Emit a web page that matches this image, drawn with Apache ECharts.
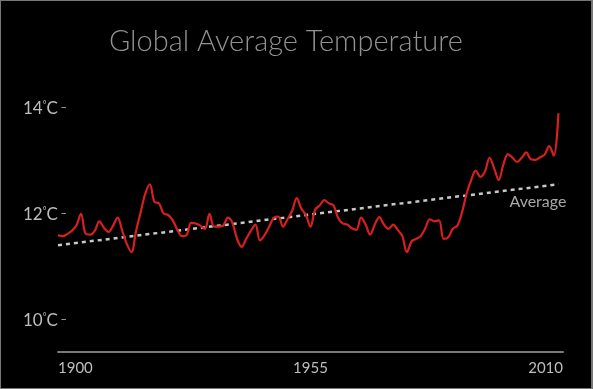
<!DOCTYPE html>
<html>
<head>
<meta charset="utf-8">
<script src="https://cdn.jsdelivr.net/npm/echarts@6/dist/echarts.min.js"></script>
<style>
html,body{margin:0;padding:0;background:#000;}
#wrap{position:relative;width:593px;height:389px;}
#chart{width:593px;height:389px;}
#frame{position:absolute;left:0;top:0;width:593px;height:389px;box-sizing:border-box;border:1px solid #777;border-right-width:2px;pointer-events:none;}
</style>
</head>
<body>
<div id="wrap"><div id="chart"></div><div id="frame"></div></div>
<script>
// Data
const years = [];
for (let y = 1900; y <= 2009; y++) years.push(y);
const temps = [
  11.62, 11.60, 11.64, 11.70, 11.80, 12.02, 11.65, 11.63, 11.70, 11.88,
  11.76, 11.68, 11.80, 11.95, 11.70, 11.45, 11.30, 11.70, 12.05, 12.40,
  12.58, 12.25, 12.22, 12.03, 12.00, 11.90, 11.72, 11.60, 11.62, 11.85,
  11.84, 11.80, 11.74, 12.02, 11.78, 11.78, 11.80, 11.95, 11.85, 11.55,
  11.40, 11.55, 11.70, 11.82, 11.52, 11.62, 11.78, 11.95, 11.97, 11.78,
  11.92, 12.08, 12.32, 12.12, 12.00, 11.78, 12.10, 12.18, 12.28, 12.22,
  12.18, 11.95, 11.84, 11.82, 11.75, 11.72, 11.95, 11.82, 11.63, 11.82,
  11.96, 11.82, 11.74, 11.82, 11.72, 11.60, 11.30, 11.50, 11.55, 11.60,
  11.75, 11.92, 11.88, 11.90, 11.55, 11.58, 11.74, 11.80, 12.05, 12.40,
  12.66, 12.84, 12.72, 12.82, 13.08, 12.88, 12.66, 12.95, 13.15, 13.08,
  13.00, 13.08, 13.18, 13.05, 13.04, 13.09, 13.14, 13.30, 13.12, 13.92
];
const avgYears = [1900, 2009];
const avgValues = [11.43, 12.58];
const xTickLabels = [1900, 1955, 2010];
const yTickLabels = [10, 12, 14];
const titleText = 'Global Average Temperature';
const avgLabel = 'Average';

const chart = echarts.init(document.getElementById('chart'));
const font = 'Lato, "Open Sans", sans-serif';
chart.setOption({
  backgroundColor: '#000',
  animation: false,
  title: {
    text: titleText,
    left: 104, top: 22,
    textStyle: {color: '#929292', fontSize: 29, fontWeight: 300, fontFamily: font}
  },
  grid: {left: 58, right: 30, top: 109, bottom: 68},
  xAxis: {
    type: 'value', min: 1900, max: 2010,
    offset: 31,
    splitLine: {show: false},
    axisTick: {show: false},
    axisLine: {show: true, onZero: false, lineStyle: {color: '#7a7a7a', width: 2}},
    axisLabel: {
      customValues: xTickLabels,
      alignMinLabel: 'left', alignMaxLabel: 'right',
      color: '#bdbdbd', fontSize: 15, fontFamily: font, margin: 9,
      formatter: v => String(v)
    }
  },
  yAxis: {
    type: 'value', min: 10, max: 14, interval: 2,
    offset: -10,
    splitLine: {show: false},
    axisTick: {show: false},
    axisLine: {show: false},
    axisLabel: {
      customValues: yTickLabels,
      margin: 1,
      formatter: v => '{n|' + v + '}{d|°}{n|C}{t| –}',
      rich: {
        n: {color: '#bdbdbd', fontSize: 17, fontFamily: font},
        d: {color: '#bdbdbd', fontSize: 9, fontFamily: font, verticalAlign: 'top', padding: [0,0,6,0]},
        t: {color: '#bdbdbd', fontSize: 11, fontFamily: font, padding: [0,0,3,0]}
      }
    }
  },
  series: [
    {
      type: 'line',
      data: avgYears.map((y, i) => [y, avgValues[i]]),
      symbol: 'none',
      lineStyle: {color: '#c8c8c8', width: 2.5, type: [4, 4]},
      label: {show: false},
      markPoint: {
        symbol: 'circle', symbolSize: 0,
        data: [{
          coord: [avgYears[1], avgValues[1]],
          label: {
            show: true, formatter: avgLabel, position: 'bottom',
            align: 'right', offset: [8, 5],
            color: '#a8a8a8', fontSize: 16, fontFamily: font
          }
        }]
      },
      z: 1
    },
    {
      type: 'line',
      data: years.map((y, i) => [y, temps[i]]),
      symbol: 'none',
      smooth: 0.35,
      lineStyle: {color: '#d81f1f', width: 2.2},
      z: 2
    }
  ]
});
</script>
</body>
</html>
